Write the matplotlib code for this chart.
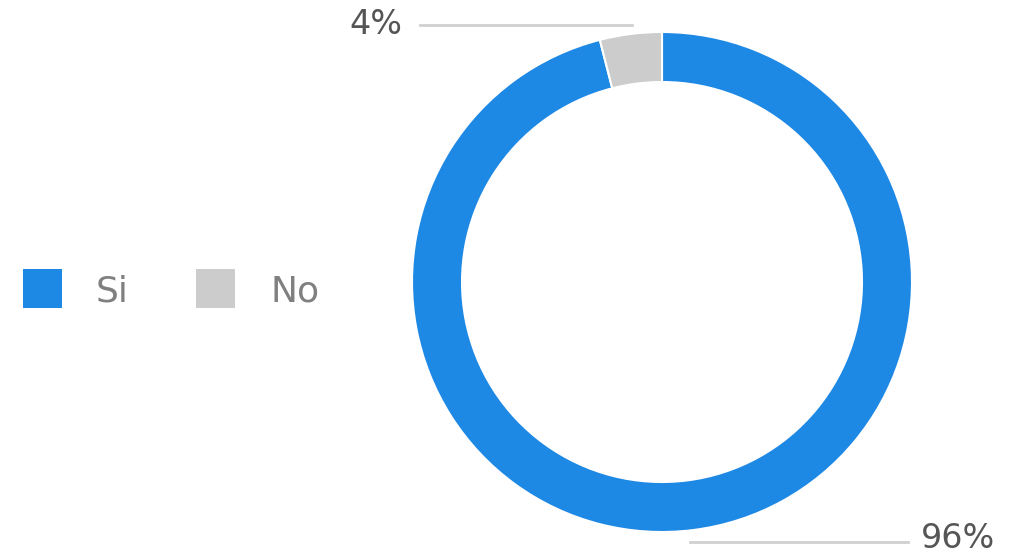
import matplotlib
matplotlib.use("Agg")
import matplotlib.pyplot as plt
from matplotlib.patches import Rectangle

plt.rcParams['font.family'] = ['DejaVu Sans']

categories = ["Si", "No"]
values = [96, 4]
colors = ["#1e88e5", "#cccccc"]
labels = ["96%", "4%"]

W, H = 1017, 553
fig = plt.figure(figsize=(W / 100, H / 100), dpi=100)
ax = fig.add_axes([0, 0, 1, 1])

cx, cy = 662, H - 282
R = 250
ax.pie(values, colors=colors, startangle=90, counterclock=False,
       center=(cx, cy), radius=R,
       wedgeprops=dict(width=50, edgecolor='white', linewidth=1.5),
       frame=True)
ax.set_xlim(0, W)
ax.set_ylim(0, H)
ax.set_aspect('equal')
ax.axis('off')

# Leader lines and labels
ax.plot([420, 632], [H - 25, H - 25], color="#d0d0d0", lw=2)
ax.text(402, H - 24, labels[1], ha='right', va='center', fontsize=24, color="#555555")
ax.plot([690, 908], [H - 542, H - 542], color="#d0d0d0", lw=2)
ax.text(921, H - 538, labels[0], ha='left', va='center', fontsize=24, color="#555555")

# Legend
legend_x = [23, 196]
text_x = [96, 271]
for i, c in enumerate(categories):
    ax.add_patch(Rectangle((legend_x[i], H - 308), 39, 39, facecolor=colors[i], edgecolor='none'))
    ax.text(text_x[i], H - 292, c, ha='left', va='center', fontsize=26, color="#808080")

fig.savefig("out.png", dpi=100, facecolor='white')
